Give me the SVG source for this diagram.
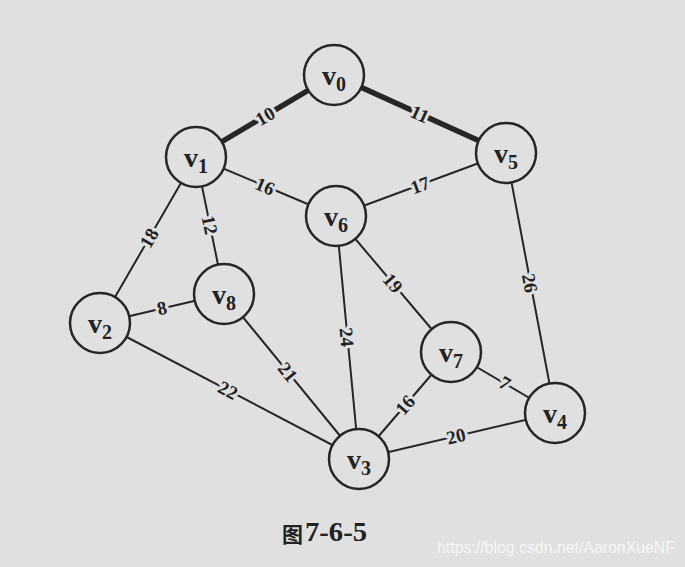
<svg xmlns="http://www.w3.org/2000/svg" width="685" height="567" viewBox="0 0 685 567">
<style>
.e{stroke:#262626;stroke-width:2;fill:none;stroke-linecap:round}
.t{stroke-width:5.5}
.n circle{fill:#e0e0e0;stroke:#262626;stroke-width:2.5}
.n text{font-family:"Liberation Serif",serif;font-weight:bold;font-size:28px;fill:#222;text-anchor:middle}
.n tspan{font-size:20px}
.l{font-family:"Liberation Serif",serif;font-weight:bold;font-size:19px;fill:#222;text-anchor:middle;stroke:#e0e0e0;stroke-width:6;paint-order:stroke;stroke-linejoin:round}
</style>
<rect width="685" height="567" fill="#e0e0e0"/>
<g id="connectors">
<line class="e t" x1="196" y1="157" x2="334" y2="75"/>
<line class="e t" x1="334" y1="75" x2="506" y2="153"/>
<line class="e" x1="196" y1="157" x2="336" y2="216"/>
<line class="e" x1="336" y1="216" x2="506" y2="153"/>
<line class="e" x1="196" y1="157" x2="224" y2="294"/>
<line class="e" x1="196" y1="157" x2="100" y2="323"/>
<line class="e" x1="100" y1="323" x2="224" y2="294"/>
<line class="e" x1="100" y1="323" x2="359" y2="459"/>
<line class="e" x1="224" y1="294" x2="359" y2="459"/>
<line class="e" x1="336" y1="216" x2="359" y2="459"/>
<line class="e" x1="336" y1="216" x2="451" y2="352"/>
<line class="e" x1="506" y1="153" x2="555" y2="413"/>
<line class="e" x1="451" y1="352" x2="555" y2="413"/>
<line class="e" x1="359" y1="459" x2="451" y2="352"/>
<line class="e" x1="359" y1="459" x2="555" y2="413"/>
<text class="l" transform="translate(265,116) rotate(-30.7)" dy="0.35em">10</text>
<text class="l" transform="translate(420,114) rotate(24.4)" dy="0.35em">11</text>
<text class="l" transform="translate(265,186) rotate(22.8)" dy="0.35em">16</text>
<text class="l" transform="translate(420,185) rotate(-20.3)" dy="0.35em">17</text>
<text class="l" transform="translate(210,225) rotate(78.4)" dy="0.35em">12</text>
<text class="l" transform="translate(149,238) rotate(-60)" dy="0.35em">18</text>
<text class="l" transform="translate(162,308) rotate(-13)" dy="0.35em">8</text>
<text class="l" transform="translate(228,390) rotate(27.7)" dy="0.35em">22</text>
<text class="l" transform="translate(288,372) rotate(50.7)" dy="0.35em">21</text>
<text class="l" transform="translate(347,337) rotate(84.6)" dy="0.35em">24</text>
<text class="l" transform="translate(393,283) rotate(49.8)" dy="0.35em">19</text>
<text class="l" transform="translate(530,283) rotate(79.3)" dy="0.35em">26</text>
<text class="l" transform="translate(505,383) rotate(30.4)" dy="0.35em">7</text>
<text class="l" transform="translate(405,405) rotate(-49.3)" dy="0.35em">16</text>
<text class="l" transform="translate(456,436) rotate(-13.2)" dy="0.35em">20</text>
</g>
<g id="v0" class="n"><circle cx="334" cy="75" r="30"/><text x="334" y="85">v<tspan dy="6">0</tspan></text></g>
<g id="v1" class="n"><circle cx="196" cy="157" r="30"/><text x="196" y="167">v<tspan dy="6">1</tspan></text></g>
<g id="v5" class="n"><circle cx="506" cy="153" r="30"/><text x="506" y="163">v<tspan dy="6">5</tspan></text></g>
<g id="v6" class="n"><circle cx="336" cy="216" r="30"/><text x="336" y="226">v<tspan dy="6">6</tspan></text></g>
<g id="v2" class="n"><circle cx="100" cy="323" r="30"/><text x="100" y="333">v<tspan dy="6">2</tspan></text></g>
<g id="v8" class="n"><circle cx="224" cy="294" r="30"/><text x="224" y="304">v<tspan dy="6">8</tspan></text></g>
<g id="v3" class="n"><circle cx="359" cy="459" r="30"/><text x="359" y="469">v<tspan dy="6">3</tspan></text></g>
<g id="v7" class="n"><circle cx="451" cy="352" r="30"/><text x="451" y="362">v<tspan dy="6">7</tspan></text></g>
<g id="v4" class="n"><circle cx="555" cy="413" r="30"/><text x="555" y="423">v<tspan dy="6">4</tspan></text></g>
<g id="caption">
<text x="282" y="542" font-family="Liberation Serif, Noto Sans CJK SC, serif" font-weight="bold" font-size="21" fill="#222">图</text>
<text x="305" y="541" font-family="Liberation Serif, serif" font-weight="bold" font-size="27" fill="#222" textLength="62" lengthAdjust="spacingAndGlyphs">7-6-5</text>
<text x="437" y="553" font-family="Liberation Sans, sans-serif" font-size="16" fill="#f6f6f6" textLength="238" lengthAdjust="spacingAndGlyphs">https://blog.csdn.net/AaronXueNF</text>
</g>
</svg>
